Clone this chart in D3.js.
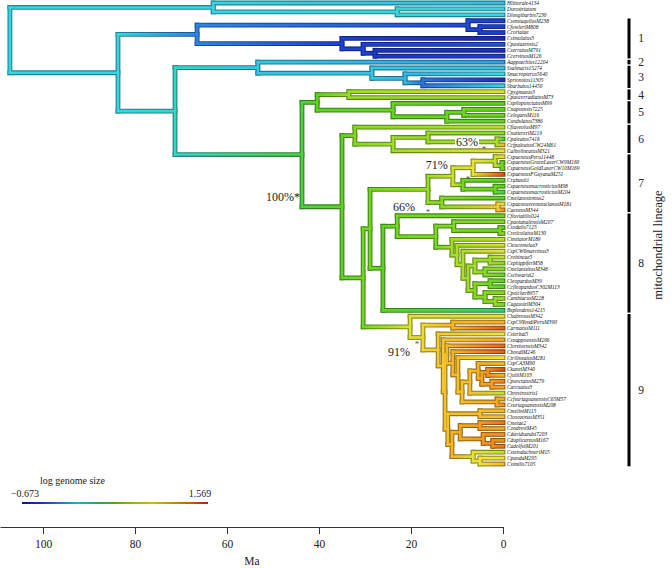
<!DOCTYPE html>
<html><head><meta charset="utf-8">
<script src="https://cdn.jsdelivr.net/npm/d3@7"></script>
<style>body{margin:0;background:#fff}</style>
</head><body><svg id="c" width="672" height="568"></svg>
<script>
const tipNames = ["Hlittorale4134","Durostriatum","Dlongibarbis7230","CsemiaquilusM238","CfowleriM808","Ccoriatae","Csimulatus3","Cpastazensis2","CserratusM791","CcervinusM126","Aappozchius12204","Ssalmacis15274","Smacropterus5640","Sprionotos11305","Sbarbatus14450","Cpygmaeus3","CpaucerradiatusM73","CspilopunctatusM99","Cnapoensis7225","CelegansM116","Cundulatus7386","CflaveolusM97","CnattereriM219","Cpaleatus7416","CcfpaleatusCW24M61","CalbolineatusM321","CspaeneusPeru11448","CspaeneusGreenLaserCW9M160","CspaeneusGoldLaserCW10M169","CspaeneusFGuyanaM251","Crabauti1","CspaeneusmacrostictusM98","CspaeneusmacrostictusM204","Cmelanostomus2","CspaeneusvenezuelanusM181","CaeneusM344","Cfluviatilis024","CpantanalensisM207","Csodalis7125","CreticulatusM130","CimitatorM189","Cleucomelas3","CspCW6marcinus3","Crobineae5","CephippiferM58","CmelanistiusM348","Cschwartzi2","CleopardusM39","CcfleopardusC302M113","Cpulcher8957","CambiacusM228","CagassiziM304","Bsplendens14215","ChabrosusM342","CspC9YondiPeruM390","CarmatusM111","Csterbai5","CsnappoensisM266","CloretoensisM342","CbondiM246","CtrilineatusM281","CspCA3M90","CkaneiM340","CjuliiM103","CpunctatusM279","Carcuatus3","Cbrevirostris1","CcfsuriaguanensisC65M57","CsuriaguanensisM208","CmeliniM115","CloxozonusM351","Cmetae2","CondreviM45","Cdavidsandsi7203","CduplicareusM167","CadolfoiM201","CsteindachneriM15","CpandaM295","Csimilis7105"];
const tipValues = [-0.068,0.0,0.0,-0.449,-0.449,-0.449,-0.561,-0.404,-0.538,-0.449,-0.180,-0.045,0.0,-0.538,0.0,0.784,0.627,0.448,0.448,0.493,0.448,0.672,0.560,0.403,1.076,0.852,0.941,0.448,0.493,1.457,0.448,0.448,0.336,0.448,0.852,1.233,0.493,0.560,0.448,0.560,0.672,0.784,0.852,0.717,0.560,0.560,0.493,0.448,0.448,0.560,0.627,0.560,0.224,0.852,1.121,1.412,0.896,1.165,1.390,1.412,0.896,1.076,1.457,1.121,1.300,1.165,0.717,1.121,1.233,1.076,1.053,1.345,1.121,1.233,1.233,1.345,0.717,0.896,1.076];

const nodeIds = ["root","A","A2","B","L1","L1a","L1a2","L1b","L1b2","L1b3","C","E","L3","L3b","L3c","G","L45","L4","L5","L5b","L5c","H","L6","L6b","L6c","L6d","I","J","L7","L7a","L7c","L7e","L7f","L7d","L7g","L7b","L7h","L8","L8a","L8b","L8c","L8e","L8d","L8f","L8g","L8h","L8i","L8k","L8l","L8j","L8m","L8n","L8o",
  "L9","L9a","L9b","L9c","R","R2","X","X2","X3","X4","A9","A91","A92","P62","P64","P67","Y","P69","Y2","Y3","P71","P73","P74","Y4","P77"];
const nodeChildren = [["A","B"],[0,"A2"],[1,2],["L1","C"],["L1a","L1b"],[3,"L1a2"],[4,5],[6,"L1b2"],[7,"L1b3"],[8,9],["E","G"],[10,"L3"],[11,"L3b"],[12,"L3c"],[13,14],["L45","H"],["L4","L5"],[15,16],[17,"L5b"],["L5c",20],[18,19],["L6","I"],[21,"L6b"],["L6c",25],[22,"L6d"],[23,24],["J","L9"],["L7","L8"],["L7a","L7b"],["L7c","L7d"],["L7e",29],[26,"L7f"],[27,28],[30,"L7g"],[31,32],[33,"L7h"],[34,35],["L8a",52],[36,"L8b"],["L8c","L8d"],[37,"L8e"],[38,39],[40,"L8f"],[41,"L8g"],[42,"L8h"],["L8i","L8j"],["L8k","L8l"],[43,44],[45,46],["L8m","L8n"],[47,48],[49,"L8o"],[50,51],
  [53,"L9a"],["L9b","L9c"],[54,55],[56,"R"],[57,"R2"],["X","Y"],[58,"X2"],[59,"X3"],[60,"X4"],["A9","P67"],["A91",66],[61,"A92"],["P62","P64"],[62,63],[64,65],[67,68],["P69","Y2"],[69,70],["Y3","Y4"],["P71","P73"],[71,72],[73,"P74"],[74,75],[76,"P77"],[77,78]];
const nodeAges = [107.2,63.0,23.0,83.7,66.5,7.6,5.0,35.0,30.4,27.8,71.3,53.3,28.5,21.3,17.4,43.7,40.4,33.5,23.9,12.2,8.5,35.0,32.2,23.9,16.3,1.3,30.4,28.9,16.3,10.9,6.5,1.7,0.2,8.7,1.7,13.3,1.1,26.1,23.0,14.6,10.7,0.65,11.1,10.0,8.7,7.6,6.1,2.8,3.9,6.1,2.8,3.9,1.7,
  20.2,17.4,10.9,14.1,13.0,12.6,12.2,10.9,9.8,8.9,7.2,5.4,4.6,3.3,2.4,1.3,12.0,5.0,11.1,9.3,5.0,4.3,2.2,6.5,5.0];
const nodeValues = [0.0,0.0,0.02,0.0,-0.25,-0.42,-0.45,-0.45,-0.45,-0.5,0.05,-0.05,-0.05,-0.1,-0.3,0.35,0.45,0.6,0.47,0.48,0.48,0.45,0.55,0.62,0.6,0.65,0.5,0.5,0.6,0.75,0.85,0.7,0.5,0.5,0.48,0.55,1.0,0.45,0.5,0.52,0.53,0.5,0.62,0.65,0.65,0.62,0.63,0.62,0.55,0.55,0.5,0.56,0.58,
  0.82,0.95,1.1,1.0,1.02,1.05,1.08,1.1,1.05,1.05,1.05,1.12,1.18,1.25,1.2,1.15,1.05,1.06,1.1,1.15,1.2,1.22,1.28,0.85,0.9];

const axisTicks = [100,80,60,40,20,0];
const lineageNames = ["1","2","3","4","5","6","7","8","9"];
const lineageFirstTip = [3,10,11,15,17,21,26,36,53];
const lineageLastTip = [9,10,14,16,20,25,35,52,78];
const supportNodes = ["H","L7a","L6d","L7","L9a"];
const supportTexts = ["100%*","71%","63%","66%","91%"];
const starNodes = ["L7d","L6d","L7","L9a"];
const colorValues = [-0.673,1.569];
const colorStops = ["#1a1a8a","#1f3fd6","#2f8fe6","#35d5e5","#35cf6a","#5cd421","#b5e02a","#f2e33a","#f5b025","#ee7a18","#d62a10"];

const svg = d3.select("#c");
const x = d3.scaleLinear().domain([109.35,0]).range([0,503]);
const y = d3.scaleLinear().domain([0,tipNames.length-1]).range([3,464]);
const color = d3.scaleLinear()
  .domain(colorStops.map((c,i)=>colorValues[0]+(colorValues[1]-colorValues[0])*i/(colorStops.length-1)))
  .range(colorStops).interpolate(d3.interpolateRgb).clamp(true);

const nodeMap = {};
nodeIds.forEach((id,i)=>{nodeMap[id]={id, age:nodeAges[i], value:nodeValues[i], kids:nodeChildren[i]};});
function build(ref){
  if (typeof ref === "number") return {id:"t"+ref, tip:ref, age:0, value:tipValues[ref], name:tipNames[ref]};
  const n = nodeMap[ref];
  return {id:n.id, age:n.age, value:n.value, children:n.kids.map(build)};
}
const root = d3.hierarchy(build("root"));
root.eachAfter(d=>{
  d.px = x(d.data.age);
  if (d.children) d.py = (d.children[0].py + d.children[d.children.length-1].py)/2;
  else d.py = y(d.data.tip);
});
const byId = {}; root.each(d=>byId[d.data.id]=d);

const defs = svg.append("defs");
const gOut = svg.append("g"), gIn = svg.append("g");
const OW = 4.8, IW = 2.6;
function darker(c){return d3.color(c).darker(1.35).formatHex();}
let gi = 0;
root.each(d=>{
  if (d.parent){
    const pc = color(d.parent.data.value), cc = color(d.data.value);
    const x1 = d.parent.px, x2 = d.px;
    ["o","i"].forEach(k=>{
      const g = defs.append("linearGradient").attr("id",k+gi)
        .attr("gradientUnits","userSpaceOnUse").attr("x1",x1).attr("x2",x2).attr("y1",0).attr("y2",0);
      g.append("stop").attr("offset",0).attr("stop-color",k==="o"?darker(pc):pc);
      g.append("stop").attr("offset",1).attr("stop-color",k==="o"?darker(cc):cc);
    });
    gOut.append("line").attr("x1",x1).attr("x2",x2).attr("y1",d.py).attr("y2",d.py)
      .attr("stroke","url(#o"+gi+")").attr("stroke-width",OW).attr("stroke-linecap","square");
    gIn.append("line").attr("x1",x1).attr("x2",x2).attr("y1",d.py).attr("y2",d.py)
      .attr("stroke","url(#i"+gi+")").attr("stroke-width",IW).attr("stroke-linecap","square");
    gi++;
  }
  if (d.children){
    const c = color(d.data.value);
    const ys = d.children.map(k=>k.py);
    gOut.append("line").attr("x1",d.px).attr("x2",d.px).attr("y1",d3.min(ys)).attr("y2",d3.max(ys))
      .attr("stroke",darker(c)).attr("stroke-width",OW).attr("stroke-linecap","square");
    gIn.append("line").attr("x1",d.px).attr("x2",d.px).attr("y1",d3.min(ys)).attr("y2",d3.max(ys))
      .attr("stroke",c).attr("stroke-width",IW).attr("stroke-linecap","square");
  }
});

svg.append("g").selectAll("text").data(root.leaves()).join("text")
  .attr("x",d=>d.px+4).attr("y",d=>d.py+1.9)
  .attr("font-family","Liberation Serif, serif").attr("font-style","italic").attr("font-size",5.4)
  .attr("fill","#111").text(d=>d.data.name);

const ann = svg.append("g").attr("font-family","Liberation Serif, serif");
const supOffsets = {"H":[-42,-6],"L7a":[-5,-7],"L6d":[-19,4],"L7":[-13,22],"L9a":[-13,18]};
supportNodes.forEach((id,i)=>{
  const n = byId[id]; const o = supOffsets[id];
  const t = ann.append("text").attr("x",n.px+o[0]).attr("y",n.py+o[1]).attr("text-anchor","end")
    .attr("font-size",12).attr("fill","#222").text(supportTexts[i]);
  if (id==="L6d"){
    const b = t.node().getBBox();
    ann.insert("rect","text").attr("x",b.x-1).attr("y",b.y+1).attr("width",b.width+2).attr("height",b.height-2).attr("fill","#fff");
  }
});
const starOffsets = {"L7d":[5,-3],"L6d":[-13,10],"L7":[0,26],"L9a":[-6,9]};
starNodes.forEach(id=>{
  const n = byId[id]; const o = starOffsets[id];
  ann.append("text").attr("x",n.px+o[0]).attr("y",n.py+o[1]).attr("text-anchor","middle")
    .attr("font-size",9).attr("fill","#555").text("*");
});

const lg = svg.append("g");
lineageNames.forEach((nm,i)=>{
  const y0 = y(lineageFirstTip[i]) - 2.95 + 0.7, y1 = y(lineageLastTip[i]) + 2.95 - 0.7;
  lg.append("rect").attr("x",627.5).attr("y",y0).attr("width",3).attr("height",y1-y0).attr("fill","#000");
  lg.append("text").attr("x",641).attr("y",(y0+y1)/2+4).attr("text-anchor","middle")
    .attr("font-family","Liberation Serif, serif").attr("font-size",11.5).attr("fill","#222").text(nm);
});
svg.append("text").attr("transform","translate(662,245) rotate(-90)").attr("text-anchor","middle")
  .attr("font-family","Liberation Serif, serif").attr("font-size",12.5).attr("fill","#222").text("mitochondrial lineage");

const ax = svg.append("g").attr("transform","translate(0,527)")
  .call(d3.axisBottom(x).tickValues(axisTicks).tickSize(7).tickSizeOuter(0).tickPadding(6).tickFormat(d3.format("d")));
ax.select(".domain").attr("stroke","#333");
ax.selectAll(".tick line").attr("stroke","#333");
ax.selectAll("text").attr("font-family","Liberation Serif, serif").attr("font-size",11.5).attr("fill","#222");
svg.append("text").attr("x",252).attr("y",565).attr("text-anchor","middle")
  .attr("font-family","Liberation Serif, serif").attr("font-size",11.5).attr("fill","#222").text("Ma");

const lgd = defs.append("linearGradient").attr("id","cbar");
d3.range(0,1.0001,0.05).forEach(t=>lgd.append("stop").attr("offset",t)
  .attr("stop-color",d3.color(color(colorValues[0]+t*(colorValues[1]-colorValues[0]))).darker(0.6).formatHex()));
svg.append("rect").attr("x",22).attr("y",502).attr("width",186).attr("height",2).attr("fill","url(#cbar)");
svg.append("text").attr("x",40).attr("y",484).attr("font-family","Liberation Serif, serif").attr("font-size",10).attr("fill","#222").text("log genome size");
svg.append("text").attr("x",25).attr("y",497).attr("text-anchor","middle").attr("font-family","Liberation Serif, serif").attr("font-size",10).attr("fill","#222").text("\u2212" + Math.abs(colorValues[0]).toFixed(3));
svg.append("text").attr("x",200).attr("y",497).attr("text-anchor","middle").attr("font-family","Liberation Serif, serif").attr("font-size",10).attr("fill","#222").text(colorValues[1].toFixed(3));
</script></body></html>
